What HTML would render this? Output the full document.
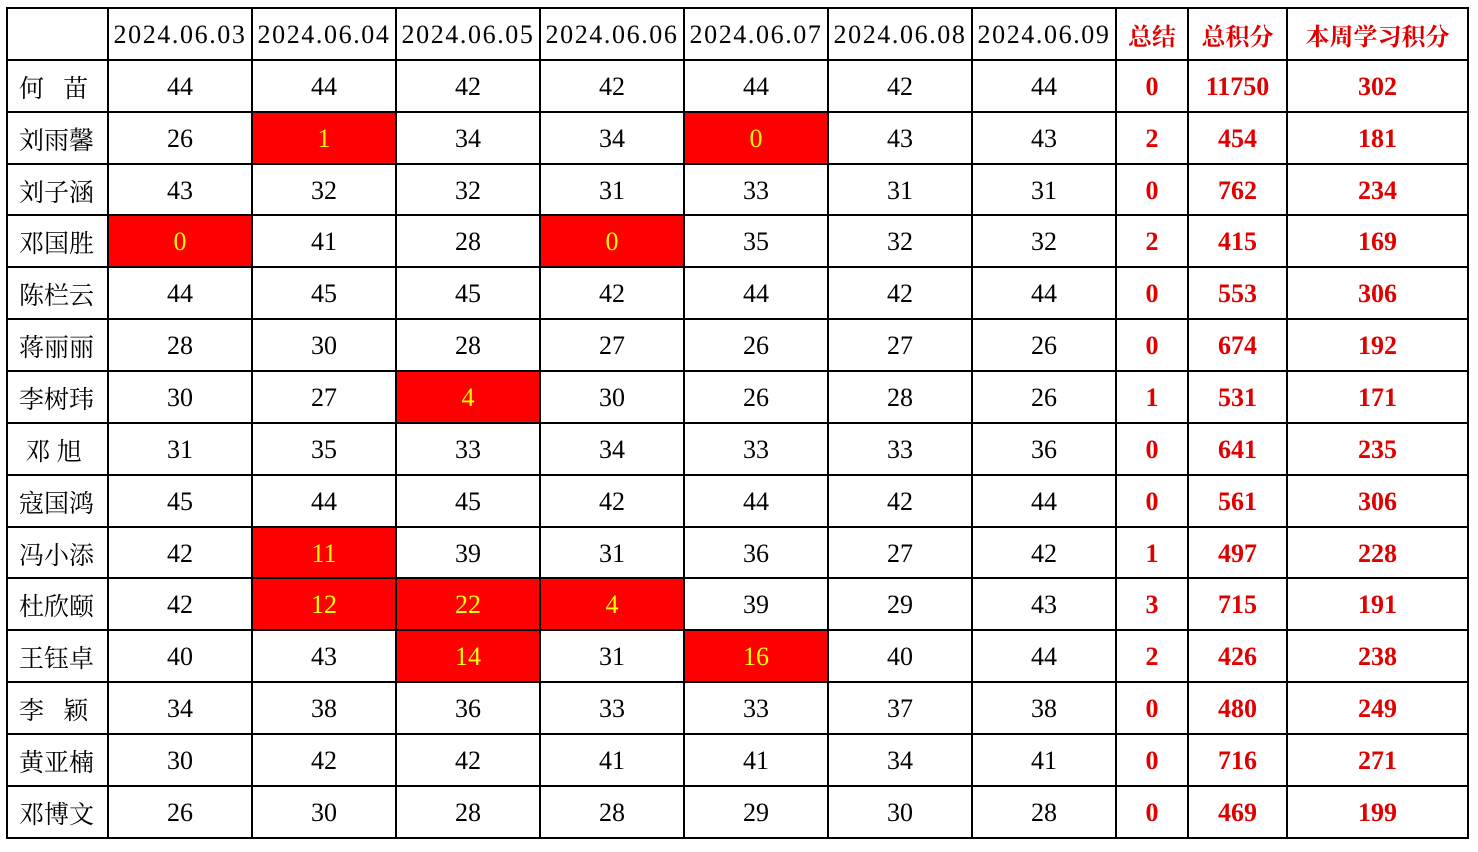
<!DOCTYPE html>
<html><head><meta charset="utf-8"><style>
body{margin:0;background:#fff;width:1478px;height:852px;overflow:hidden}
table{position:absolute;left:6px;top:7px;border-collapse:collapse;table-layout:fixed;width:1462px}
td{border:2px solid #000;height:49.9px;padding:0;padding-top:2px;box-sizing:border-box;text-align:center;font-family:"Liberation Serif","Noto Serif CJK SC",serif;font-size:26px;color:#000;white-space:nowrap;overflow:hidden}
tr{height:51.87px}
tr.h td{font-size:26px;letter-spacing:1.6px}
td.n{font-family:"Noto Serif CJK SC",serif;font-size:25px;text-align:left;padding-left:11px}
td.r{color:#e00000;font-weight:bold}
tr.h td.r{font-family:"Noto Serif CJK SC",serif;font-size:24px;letter-spacing:0}
td.x{background:#ff0000;color:#ffff00}
</style></head><body>
<table>
<colgroup><col style="width:101px"><col style="width:144px"><col style="width:144px"><col style="width:144px"><col style="width:144px"><col style="width:144px"><col style="width:144px"><col style="width:144px"><col style="width:72px"><col style="width:99px"><col style="width:181px"></colgroup>
<tr class="h"><td></td><td>2024.06.03</td><td>2024.06.04</td><td>2024.06.05</td><td>2024.06.06</td><td>2024.06.07</td><td>2024.06.08</td><td>2024.06.09</td><td class="r">总结</td><td class="r">总积分</td><td class="r">本周学习积分</td></tr>
<tr><td class="n">何&nbsp;&nbsp;&nbsp;苗</td><td>44</td><td>44</td><td>42</td><td>42</td><td>44</td><td>42</td><td>44</td><td class="r">0</td><td class="r">11750</td><td class="r">302</td></tr>
<tr><td class="n">刘雨馨</td><td>26</td><td class="x">1</td><td>34</td><td>34</td><td class="x">0</td><td>43</td><td>43</td><td class="r">2</td><td class="r">454</td><td class="r">181</td></tr>
<tr><td class="n">刘子涵</td><td>43</td><td>32</td><td>32</td><td>31</td><td>33</td><td>31</td><td>31</td><td class="r">0</td><td class="r">762</td><td class="r">234</td></tr>
<tr><td class="n">邓国胜</td><td class="x">0</td><td>41</td><td>28</td><td class="x">0</td><td>35</td><td>32</td><td>32</td><td class="r">2</td><td class="r">415</td><td class="r">169</td></tr>
<tr><td class="n">陈栏云</td><td>44</td><td>45</td><td>45</td><td>42</td><td>44</td><td>42</td><td>44</td><td class="r">0</td><td class="r">553</td><td class="r">306</td></tr>
<tr><td class="n">蒋丽丽</td><td>28</td><td>30</td><td>28</td><td>27</td><td>26</td><td>27</td><td>26</td><td class="r">0</td><td class="r">674</td><td class="r">192</td></tr>
<tr><td class="n">李树玮</td><td>30</td><td>27</td><td class="x">4</td><td>30</td><td>26</td><td>28</td><td>26</td><td class="r">1</td><td class="r">531</td><td class="r">171</td></tr>
<tr><td class="n">&nbsp;邓&nbsp;旭</td><td>31</td><td>35</td><td>33</td><td>34</td><td>33</td><td>33</td><td>36</td><td class="r">0</td><td class="r">641</td><td class="r">235</td></tr>
<tr><td class="n">寇国鸿</td><td>45</td><td>44</td><td>45</td><td>42</td><td>44</td><td>42</td><td>44</td><td class="r">0</td><td class="r">561</td><td class="r">306</td></tr>
<tr><td class="n">冯小添</td><td>42</td><td class="x">11</td><td>39</td><td>31</td><td>36</td><td>27</td><td>42</td><td class="r">1</td><td class="r">497</td><td class="r">228</td></tr>
<tr><td class="n">杜欣颐</td><td>42</td><td class="x">12</td><td class="x">22</td><td class="x">4</td><td>39</td><td>29</td><td>43</td><td class="r">3</td><td class="r">715</td><td class="r">191</td></tr>
<tr><td class="n">王钰卓</td><td>40</td><td>43</td><td class="x">14</td><td>31</td><td class="x">16</td><td>40</td><td>44</td><td class="r">2</td><td class="r">426</td><td class="r">238</td></tr>
<tr><td class="n">李&nbsp;&nbsp;&nbsp;颖</td><td>34</td><td>38</td><td>36</td><td>33</td><td>33</td><td>37</td><td>38</td><td class="r">0</td><td class="r">480</td><td class="r">249</td></tr>
<tr><td class="n">黄亚楠</td><td>30</td><td>42</td><td>42</td><td>41</td><td>41</td><td>34</td><td>41</td><td class="r">0</td><td class="r">716</td><td class="r">271</td></tr>
<tr><td class="n">邓博文</td><td>26</td><td>30</td><td>28</td><td>28</td><td>29</td><td>30</td><td>28</td><td class="r">0</td><td class="r">469</td><td class="r">199</td></tr>
</table>
</body></html>
